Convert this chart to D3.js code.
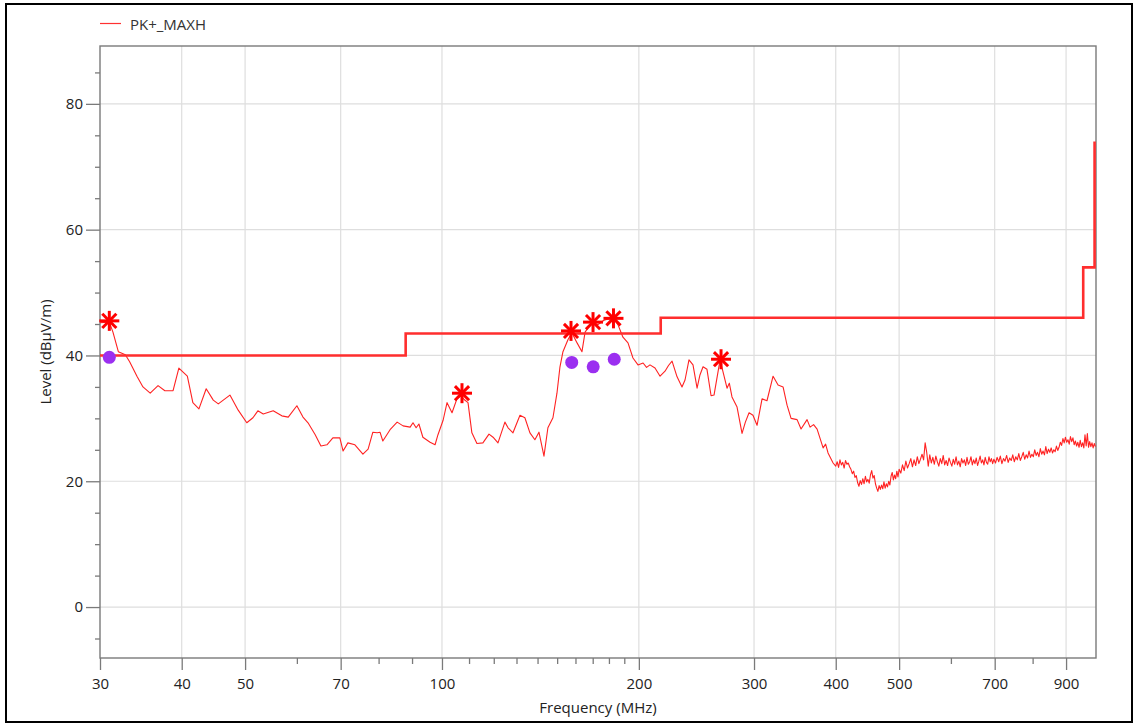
<!DOCTYPE html>
<html><head><meta charset="utf-8">
<script src="https://cdn.jsdelivr.net/npm/d3@7"></script>
<style>body{margin:0;background:#fff}svg{display:block}text{font-family:"Open Sans",sans-serif}</style>
</head><body><svg id="c" width="1134" height="725"></svg>
<script>
// ---- data ----
const traceMHz = [30.0,31.0,31.4,32.0,32.8,33.3,34.2,34.9,35.8,36.8,37.7,38.8,39.6,40.8,41.6,42.5,43.6,44.7,45.5,47.4,48.8,50.3,51.4,52.3,53.3,55.2,56.9,58.2,60.0,61.3,62.4,64.0,65.3,66.7,68.1,69.8,70.6,71.8,73.6,75.7,77.1,78.4,79.6,80.4,81.2,83.3,85.4,87.2,89.4,90.3,91.3,92.2,93.5,95.9,97.6,98.6,100.4,101.8,103.6,105.4,106.9,108.1,109.6,111.1,113.1,115.5,118.0,119.7,121.8,124.8,126.2,128.4,131.6,133.9,136.3,138.7,140.7,143.2,145.2,147.8,149.9,151.5,153.1,155.8,158.0,160.9,163.7,165.5,169.6,173.2,176.9,182.6,185.8,189.1,192.5,195.9,199.4,203.0,205.5,208.0,211.7,215.5,219.3,222.0,224.8,228.8,232.8,235.3,238.6,242.0,245.5,248.0,250.7,254.2,257.9,260.6,266.2,272.8,275.0,277.6,282.6,287.6,291.0,294.8,298.9,303.2,308.6,314.0,320.8,326.5,332.3,337.0,341.8,349.1,354.0,361.6,365.4,370.0,374.6,382.6,386.0,389.3,396.3,
400,402,404,406,408,410,412,414,416,418,420,422,424,426,428,430,432,434,436,438,440,442,444,446,448,450,452,454,456,458,460,462,464,466,468,470,472,474,476,478,480,482,484,486,488,490,492,494,496,498,500,
503,506,509,512,515,518,521,524,527,530,533,536,539,542,545,548,551,554,557,560,563,566,569,572,575,578,581,584,587,590,593,596,599,602,605,608,611,614,617,620,623,626,629,632,635,638,641,644,647,650,653,656,659,662,665,668,671,674,677,680,683,686,689,692,695,698,
702,706,710,714,718,722,726,730,734,738,742,746,750,754,758,762,766,770,774,778,782,786,790,794,798,802,806,810,814,818,822,826,830,834,838,842,846,850,854,858,862,866,870,874,878,882,886,890,894,898,902,906,910,914,918,922,926,930,934,938,942,946,950,954,958,962,966,970,974,978,982,986,990,994,998];
const traceLevel = [45.2,45.3,43.7,40.6,40.1,39.0,36.6,35.0,34.0,35.2,34.4,34.4,38.0,36.7,32.5,31.5,34.7,32.9,32.3,33.7,31.3,29.3,30.1,31.2,30.7,31.2,30.4,30.2,32.0,30.2,29.3,27.4,25.6,25.8,26.9,26.9,24.8,26.1,25.8,24.3,25.1,27.8,27.7,27.8,26.4,28.2,29.4,28.8,28.6,29.3,28.5,29.1,27.0,26.2,25.8,27.4,29.7,32.5,30.9,33.1,33.6,33.0,32.5,27.7,26.0,26.1,27.5,27.0,26.1,29.4,28.5,27.7,30.5,30.1,27.7,26.6,27.8,24.0,28.5,30.1,34.0,38.2,40.6,42.5,43.6,42.0,40.6,43.7,45.3,44.9,45.6,46.0,44.9,42.9,42.0,39.6,38.5,38.8,38.1,38.5,38.0,36.7,37.5,38.4,39.1,36.6,35.0,36.1,39.3,38.5,34.8,36.9,38.2,37.8,33.6,33.7,39.3,34.8,35.6,33.4,31.8,27.6,29.4,30.9,30.5,28.9,33.1,32.8,36.7,35.3,35.0,32.1,30.0,29.8,28.3,29.8,28.6,29.0,28.3,25.3,25.9,24.5,22.9,
22.4,23.1,22.2,23.4,22.6,23.0,22.1,23.3,22.7,22.9,22.3,21.9,21.2,21.6,20.6,20.9,19.8,19.2,20.1,19.5,20.4,19.6,20.8,19.9,20.3,19.7,21.0,21.7,20.5,20.9,19.6,18.9,18.4,19.3,18.7,19.4,18.8,19.9,18.9,19.6,19.1,20.0,19.4,20.8,21.4,20.2,21.0,20.4,21.6,20.7,21.9,
21.3,22.6,21.7,23.2,22.1,22.8,23.6,22.3,23.4,22.5,23.9,22.8,23.5,24.3,23.4,26.1,24.6,22.4,24.2,22.9,23.8,22.7,24.0,23.1,22.4,23.6,22.8,24.1,22.6,23.3,22.5,23.7,23.0,22.4,23.5,22.7,23.9,22.6,23.2,22.3,23.6,22.9,23.4,22.5,23.8,22.7,23.1,23.9,22.6,23.4,22.8,23.7,22.5,23.2,24.0,22.9,23.4,22.6,23.8,23.0,22.7,23.9,23.1,23.6,22.8,23.5,
22.9,23.8,23.1,24.0,22.8,23.6,23.2,24.1,23.0,23.7,23.3,24.2,23.1,23.9,23.4,24.4,23.3,23.9,24.6,23.5,24.2,23.7,24.8,23.8,24.3,23.9,25.0,24.1,24.6,23.9,25.2,24.3,24.8,24.2,25.5,24.4,25.1,24.6,25.3,24.5,25.0,24.7,25.6,24.9,25.4,26.2,25.7,26.8,26.1,27.0,26.2,26.6,25.9,27.1,26.3,26.9,25.8,26.4,25.6,26.2,25.4,26.5,25.5,26.1,25.3,27.4,25.6,27.6,25.4,26.3,25.5,26.1,25.3,26.0,25.5];
const limitMHz = [30,88,88,216,216,956,956,995,995];
const limitLevel = [40,40,43.5,43.5,46,46,54,54,74];
const peakMHz = [31.0,107.3,157.5,170.2,182.9,267.1];
const peakLevel = [45.5,34.0,43.9,45.3,45.9,39.4];
const qpMHz = [31.0,157.9,170.3,183.4];
const qpLevel = [39.7,38.9,38.2,39.4];
const xTickLabels = [30,40,50,70,100,200,300,400,500,700,900];
const xMinorTicks = [60,80,90,110,120,130,140,150,160,170,180,190,600,800];
const yTickLabels = [0,20,40,60,80];
const yMinorTicks = [-5,5,10,15,25,30,35,45,50,55,65,70,75,85];
const legendLabel = "PK+_MAXH";
const xTitle = "Frequency (MHz)";
const yTitle = "Level (dBµV/m)";

// ---- layout ----
const L = 100, R = 1096, T = 46, B = 658;
const svg = d3.select("#c");
const x = d3.scaleLog().domain([30, 1000]).range([L, R]);
const y = d3.scaleLinear().domain([-8.1, 89.2]).range([B, T]);

// outer border
svg.append("rect").attr("x", 6).attr("y", 4).attr("width", 1126).attr("height", 718)
  .attr("fill", "none").attr("stroke", "#000").attr("stroke-width", 2);

// grid
const g = svg.append("g");
g.selectAll("line.vg").data(xTickLabels.slice(1)).join("line")
  .attr("x1", d => x(d)).attr("x2", d => x(d)).attr("y1", T).attr("y2", B)
  .attr("stroke", "#dedede").attr("stroke-width", 1.2);
g.selectAll("line.hg").data(yTickLabels).join("line")
  .attr("x1", L).attr("x2", R).attr("y1", d => y(d)).attr("y2", d => y(d))
  .attr("stroke", "#dedede").attr("stroke-width", 1.2);

// axes
const axisColor = "#7a7a7a";
const xa = svg.append("g").attr("transform", `translate(0,${B})`)
  .call(d3.axisBottom(x).tickValues(xTickLabels).tickFormat(d3.format("d")).tickSize(12).tickPadding(8));
const xm = svg.append("g").attr("transform", `translate(0,${B})`)
  .call(d3.axisBottom(x).tickValues(xMinorTicks).tickFormat("").tickSize(6));
const ya = svg.append("g").attr("transform", `translate(${L},0)`)
  .call(d3.axisLeft(y).tickValues(yTickLabels).tickSize(14).tickPadding(3));
const ym = svg.append("g").attr("transform", `translate(${L},0)`)
  .call(d3.axisLeft(y).tickValues(yMinorTicks).tickFormat("").tickSize(5));
[xa, xm, ya, ym].forEach(a => {
  a.select(".domain").remove();
  a.selectAll("line").attr("stroke", axisColor).attr("stroke-width", 1.3);
  a.selectAll("text").attr("fill", "#222").style("font-size", "15px").style("font-family", "'Open Sans',sans-serif");
});
// frame
svg.append("rect").attr("x", L).attr("y", T).attr("width", R - L).attr("height", B - T)
  .attr("fill", "none").attr("stroke", axisColor).attr("stroke-width", 1.4);

// titles
svg.append("text").attr("x", 598).attr("y", 713).attr("text-anchor", "middle")
  .attr("fill", "#222").style("font-size", "15px").text(xTitle);
svg.append("text").attr("transform", "translate(51,352) rotate(-90)").attr("text-anchor", "middle")
  .attr("fill", "#222").style("font-size", "15px").text(yTitle);

// legend
svg.append("line").attr("x1", 100).attr("x2", 121).attr("y1", 23.5).attr("y2", 23.5)
  .attr("stroke", "#ff3030").attr("stroke-width", 1.2);
svg.append("text").attr("x", 130).attr("y", 30).attr("fill", "#333").style("font-size", "15px").text(legendLabel);

// clip
svg.append("clipPath").attr("id", "pc").append("rect").attr("x", L).attr("y", T).attr("width", R - L).attr("height", B - T);
const plot = svg.append("g").attr("clip-path", "url(#pc)");

// trace
const traceData = traceMHz.map((f, i) => [f, traceLevel[i]]);
plot.append("path").datum(traceData)
  .attr("d", d3.line().x(d => x(d[0])).y(d => y(d[1])))
  .attr("fill", "none").attr("stroke", "#ff2222").attr("stroke-width", 1.1).attr("stroke-linejoin", "round");

// limit
const limitData = limitMHz.map((f, i) => [f, limitLevel[i]]);
plot.append("path").datum(limitData)
  .attr("d", d3.line().x(d => x(d[0])).y(d => y(d[1])))
  .attr("fill", "none").attr("stroke", "#ff2e2e").attr("stroke-width", 2.6);

// QP dots
svg.selectAll("circle.qp").data(qpMHz.map((f, i) => [f, qpLevel[i]])).join("circle")
  .attr("cx", d => x(d[0])).attr("cy", d => y(d[1])).attr("r", 6.5).attr("fill", "#9b2ff0");

// peak stars
const starG = svg.selectAll("g.star").data(peakMHz.map((f, i) => [f, peakLevel[i]])).join("g")
  .attr("transform", d => `translate(${x(d[0])},${y(d[1])})`);
[0, 45, 90, 135].forEach(a => {
  const r = 10, rad = a * Math.PI / 180;
  starG.append("line").attr("x1", -r * Math.cos(rad)).attr("y1", -r * Math.sin(rad))
    .attr("x2", r * Math.cos(rad)).attr("y2", r * Math.sin(rad))
    .attr("stroke", "#ff0000").attr("stroke-width", 3);
});
</script></body></html>
